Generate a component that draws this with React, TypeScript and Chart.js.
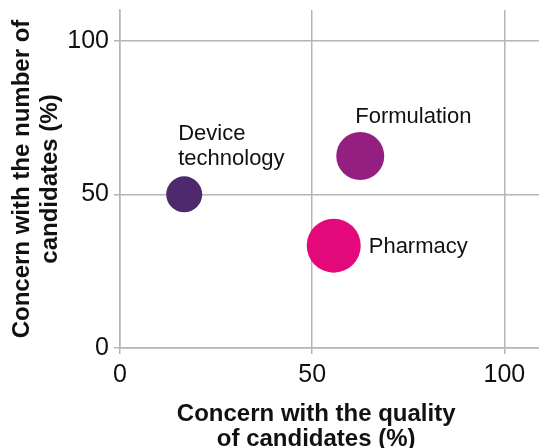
import React, { useEffect, useRef } from 'react';
import { Chart, registerables } from 'chart.js';

Chart.register(...registerables);

// ---- data ----
const categories = ['Device technology', 'Formulation', 'Pharmacy'];
const labelLines = [['Device', 'technology'], ['Formulation'], ['Pharmacy']];
const qualityConcern = [16.7, 62.5, 55.6]; // x, %
const numberConcern = [50, 62.5, 33.3]; // y, %
const bubbleSize = [18, 24, 27]; // bubble radius
const xTicks = [0, 50, 100];
const yTicks = [0, 50, 100];
const xTitle = ['Concern with the quality', 'of candidates (%)'];
const yTitle = ['Concern with the number of', 'candidates (%)'];

// ---- style ----
const colors = ['#4e296d', '#951f80', '#e4097a'];
const labelPlacement = [
  { dx: -6, dy: -54 },
  { dx: -5, dy: -33 },
  { dx: 35, dy: 7 },
];
const gridColor = '#b5b5b5';
const textColor = '#111111';
const fontFamily = '"Liberation Sans", Arial, Helvetica, sans-serif';

const overlayPlugin = {
  id: 'overlayText',
  afterDatasetsDraw(chart: any) {
    const ctx = chart.ctx;
    const meta = chart.getDatasetMeta(0);
    ctx.save();
    ctx.fillStyle = textColor;
    ctx.font = `22px ${fontFamily}`;
    ctx.textAlign = 'left';
    ctx.textBaseline = 'alphabetic';
    meta.data.forEach((el: any, i: number) => {
      const p = labelPlacement[i];
      labelLines[i].forEach((line, j) => {
        ctx.fillText(line, el.x + p.dx, el.y + p.dy + j * 25);
      });
    });
    // x-axis title
    const xs = chart.scales.x;
    const cx = (xs.getPixelForValue(xTicks[0]) + xs.getPixelForValue(xTicks[xTicks.length - 1])) / 2 + 4;
    ctx.font = `bold 24px ${fontFamily}`;
    ctx.textAlign = 'center';
    xTitle.forEach((line, j) => {
      ctx.fillText(line, cx, xs.bottom - 27 + j * 24.5);
    });
    ctx.restore();
  },
};

export default function App() {
  const ref = useRef<HTMLCanvasElement | null>(null);
  useEffect(() => {
    if (!ref.current) return;
    const chart = new Chart(ref.current, {
      type: 'bubble',
      data: {
        labels: categories,
        datasets: [
          {
            data: categories.map((_, i) => ({ x: qualityConcern[i], y: numberConcern[i], r: bubbleSize[i] })),
            backgroundColor: colors,
            borderColor: colors,
            borderWidth: 0,
            hoverRadius: 0,
          },
        ],
      },
      options: {
        responsive: true,
        maintainAspectRatio: false,
        animation: false,
        layout: { autoPadding: false, padding: { top: 10, right: 0, bottom: 0, left: 0 } },
        plugins: { legend: { display: false }, tooltip: { enabled: false } },
        scales: {
          x: {
            type: 'linear',
            min: 0,
            max: 109,
            afterBuildTicks: (s: any) => {
              s.ticks = xTicks.map((v) => ({ value: v }));
            },
            afterFit: (s: any) => {
              s.height = 100;
              s.paddingLeft = 0;
              s.paddingRight = 0;
              s.paddingTop = 0;
              s.paddingBottom = 0;
            },
            ticks: {
              font: { size: 25, family: fontFamily },
              color: textColor,
              padding: 6,
              maxRotation: 0,
            },
            grid: { color: gridColor, lineWidth: 1.5, tickLength: 6, drawTicks: true },
            border: { display: true, color: gridColor, width: 1.5 },
            title: { display: false },
          },
          y: {
            type: 'linear',
            min: 0,
            max: 110,
            afterBuildTicks: (s: any) => {
              s.ticks = yTicks.map((v) => ({ value: v }));
            },
            afterFit: (s: any) => {
              s.width = 120;
              s.paddingLeft = 0;
              s.paddingRight = 0;
              s.paddingTop = 0;
              s.paddingBottom = 0;
            },
            ticks: {
              font: { size: 25, family: fontFamily },
              color: textColor,
              padding: 5,
            },
            grid: { color: gridColor, lineWidth: 1.5, tickLength: 6, drawTicks: true },
            border: { display: true, color: gridColor, width: 1.5 },
            title: {
              display: true,
              text: yTitle,
              color: textColor,
              font: { size: 24, weight: 'bold', family: fontFamily, lineHeight: 1.167 },
              padding: { top: 8, bottom: 0 },
            },
          },
        },
      },
      plugins: [overlayPlugin],
    } as any);
    return () => chart.destroy();
  }, []);
  return (
    <div style={{ position: 'absolute', left: 0, top: 0, width: 539, height: 448 }}>
      <canvas ref={ref} />
    </div>
  );
}
